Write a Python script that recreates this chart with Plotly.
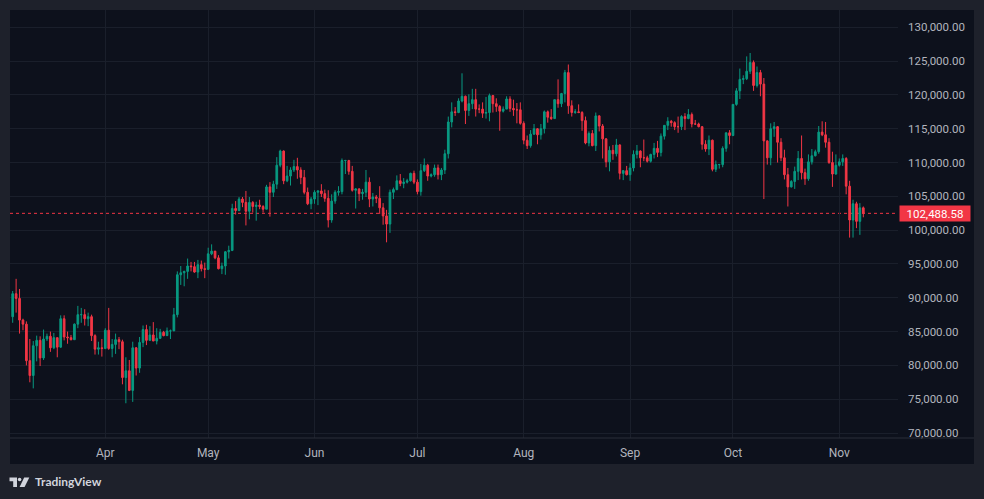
import pandas as pd
import plotly.graph_objects as go

# ---------------- data (daily candles, thousand USD) ----------------
start_date = "2025-03-05"

open_k = [
    # Mar 5-31
    87.2, 90.6, 89.9, 86.7, 86.1, 80.7, 78.5, 82.9, 83.7, 81.1, 83.9, 84.3, 82.6, 84.1, 82.7, 86.9, 84.2, 84.1, 83.8, 86.1, 87.5, 87.5, 86.9, 87.2, 84.4, 82.4, 82.6,
    # Apr
    82.5, 85.2, 82.5, 83.1, 83.8, 83.5, 78.2, 79.2, 76.3, 82.6, 79.6, 83.4, 85.3, 83.7, 84.5, 83.6, 84.0, 84.9, 84.4, 85.1, 85.1, 87.5, 93.4, 93.7, 93.9, 94.7, 94.6, 93.8, 94.9, 94.3,
    # May
    94.2, 96.5, 96.9, 95.9, 94.3, 94.7, 96.8, 97.0, 103.2, 102.9, 104.6, 104.1, 102.8, 104.1, 103.5, 103.7, 103.5, 103.1, 106.4, 105.6, 106.8, 109.6, 111.7, 107.3, 108.0, 108.9, 109.4, 108.9, 107.8, 105.6, 103.9,
    # Jun
    104.6, 105.6, 105.8, 105.4, 104.7, 101.5, 104.3, 105.6, 105.7, 110.3, 110.3, 108.7, 105.9, 106.1, 105.4, 105.6, 107.1, 104.6, 104.9, 104.7, 103.3, 102.1, 100.9, 105.6, 106.0, 107.3, 106.9, 107.1, 107.3, 108.4,
    # Jul
    107.1, 105.7, 108.8, 109.6, 108.0, 108.2, 109.2, 108.2, 108.9, 111.3, 116.0, 117.5, 117.4, 119.1, 119.8, 117.7, 118.7, 119.3, 117.9, 117.9, 117.3, 117.4, 119.9, 118.7, 118.3, 117.6, 117.9, 119.4, 118.0, 117.8, 117.8,
    # Aug
    115.8, 113.3, 112.5, 114.2, 115.0, 114.1, 115.0, 117.5, 116.7, 116.5, 119.3, 118.7, 120.2, 123.3, 118.4, 117.4, 117.5, 117.4, 116.2, 112.9, 114.3, 112.5, 116.9, 115.4, 113.5, 110.1, 111.8, 111.3, 112.6, 108.4, 108.8,
    # Sep
    108.2, 109.2, 111.2, 111.7, 110.7, 110.7, 110.2, 111.2, 112.1, 111.5, 113.9, 115.5, 116.1, 115.9, 115.3, 115.3, 116.8, 116.5, 117.1, 115.7, 115.7, 115.3, 112.7, 112.0, 113.3, 109.0, 109.7, 109.7, 112.1, 114.4,
    # Oct
    114.0, 118.6, 120.6, 122.3, 122.4, 123.5, 124.8, 121.4, 123.3, 121.6, 113.2, 110.7, 115.0, 115.3, 113.0, 110.7, 108.2, 106.4, 107.2, 108.7, 110.6, 108.5, 107.6, 110.1, 111.0, 111.6, 114.5, 114.1, 113.0, 110.0, 108.3,
    # Nov 1-8
    109.6, 110.1, 110.6, 106.5, 101.5, 103.9, 101.3, 103.3,
]

high_k = [
    91.0, 92.8, 91.3, 86.9, 86.5, 83.9, 83.6, 84.4, 84.3, 85.3, 84.7, 85.0, 84.8, 84.1, 87.4, 87.4, 85.0, 84.5, 86.2, 88.8, 88.5, 88.3, 87.8, 87.5, 84.6, 83.5, 83.9,
    85.5, 88.5, 83.9, 84.7, 84.2, 83.8, 81.2, 80.8, 83.5, 82.7, 84.2, 85.9, 86.0, 85.8, 86.4, 85.5, 85.4, 85.1, 85.6, 85.3, 88.5, 93.9, 94.7, 94.0, 95.8, 95.3, 95.3, 95.6, 95.5, 95.2,
    97.4, 97.9, 96.9, 96.3, 95.2, 96.9, 97.7, 103.9, 104.3, 104.9, 104.9, 105.8, 104.9, 104.3, 104.2, 104.5, 103.7, 106.7, 107.1, 107.3, 110.8, 111.9, 111.8, 109.5, 109.3, 110.4, 110.7, 109.3, 108.9, 106.3, 104.9,
    105.9, 105.9, 106.8, 106.0, 105.9, 105.3, 105.9, 106.5, 110.6, 110.4, 110.4, 109.5, 106.2, 106.2, 106.1, 108.9, 107.8, 105.5, 105.2, 106.5, 104.0, 103.0, 106.0, 106.3, 108.1, 108.3, 107.7, 107.6, 108.5, 108.8,
    107.5, 109.8, 110.6, 109.8, 108.4, 109.7, 109.7, 109.2, 111.9, 116.8, 118.9, 118.2, 119.5, 123.2, 119.9, 120.1, 120.9, 120.9, 118.6, 118.9, 119.7, 120.2, 120.0, 119.5, 118.5, 118.3, 119.8, 119.8, 119.3, 118.8, 118.9,
    116.1, 114.0, 114.8, 115.7, 115.1, 115.7, 117.7, 117.7, 117.9, 119.3, 122.3, 120.3, 123.7, 124.5, 119.2, 117.9, 118.6, 117.6, 116.8, 114.6, 114.8, 117.4, 117.0, 115.7, 113.6, 112.4, 112.6, 113.5, 112.7, 108.9, 109.5,
    109.9, 111.8, 112.6, 111.8, 113.4, 111.0, 111.3, 112.9, 113.2, 114.3, 115.5, 116.7, 116.3, 116.1, 116.8, 117.0, 117.3, 117.9, 117.4, 116.3, 115.9, 115.4, 113.3, 114.0, 113.4, 110.3, 109.8, 112.4, 114.4, 114.8,
    118.6, 121.0, 123.9, 122.9, 125.7, 126.2, 125.1, 124.2, 123.7, 122.5, 113.3, 115.8, 116.0, 115.4, 113.6, 111.9, 109.2, 107.4, 109.4, 111.7, 114.0, 109.1, 111.2, 112.0, 111.9, 115.4, 116.1, 116.0, 113.6, 111.6, 111.2,
    110.6, 111.2, 110.8, 107.3, 104.5, 104.2, 104.0, 103.5,
]

low_k = [
    86.3, 87.8, 84.7, 85.2, 80.0, 77.5, 76.6, 80.6, 79.9, 80.8, 83.6, 82.0, 82.4, 81.2, 82.6, 83.7, 83.2, 83.7, 83.8, 85.5, 86.3, 85.9, 85.8, 83.6, 81.6, 81.6, 81.3,
    82.4, 82.3, 81.2, 81.7, 82.4, 77.2, 74.4, 76.2, 74.6, 78.5, 78.9, 82.7, 83.0, 83.7, 83.6, 83.1, 83.9, 84.3, 84.4, 83.9, 85.1, 87.1, 91.9, 91.7, 92.8, 93.9, 93.7, 92.9, 93.9, 92.9,
    94.1, 96.3, 95.7, 94.2, 93.5, 93.4, 95.8, 96.9, 102.3, 102.8, 103.4, 100.7, 101.6, 102.6, 101.4, 103.1, 102.6, 103.1, 102.0, 104.9, 106.1, 109.3, 106.8, 107.1, 106.6, 108.6, 107.6, 106.8, 105.3, 103.7, 103.1,
    103.9, 103.7, 104.9, 104.2, 100.4, 101.1, 103.9, 105.1, 105.3, 108.3, 108.2, 105.7, 103.2, 104.3, 104.5, 104.9, 103.4, 103.5, 104.0, 102.4, 100.8, 98.2, 99.6, 104.6, 105.9, 106.5, 106.2, 106.9, 107.2, 106.8,
    105.3, 105.1, 108.6, 107.3, 107.8, 107.9, 107.5, 107.4, 108.3, 110.6, 115.2, 116.9, 117.3, 118.9, 115.7, 116.9, 117.9, 116.8, 117.3, 116.6, 116.5, 116.1, 117.4, 117.5, 114.7, 117.4, 117.9, 117.5, 116.9, 115.8, 115.6,
    112.7, 112.0, 112.2, 114.1, 112.7, 113.4, 114.3, 115.9, 116.3, 116.5, 118.1, 118.2, 118.9, 117.2, 116.8, 117.2, 117.3, 114.7, 112.7, 112.4, 112.4, 111.7, 114.6, 110.6, 109.3, 108.7, 110.4, 110.9, 107.5, 107.4, 108.1,
    107.3, 108.7, 110.6, 109.3, 110.2, 110.0, 110.0, 110.6, 110.8, 110.9, 113.4, 114.8, 115.3, 114.8, 114.4, 114.8, 114.8, 116.4, 115.2, 115.6, 115.2, 111.9, 111.6, 111.1, 108.7, 108.6, 109.1, 109.3, 111.6, 112.7,
    113.9, 118.4, 119.4, 121.6, 122.2, 123.1, 120.6, 121.1, 119.8, 104.6, 109.7, 109.6, 113.8, 110.0, 110.2, 107.5, 103.5, 106.3, 106.1, 107.4, 107.5, 106.7, 107.3, 109.7, 110.9, 111.3, 113.9, 112.2, 109.8, 106.4, 108.2,
    109.4, 109.5, 105.3, 98.9, 98.9, 100.3, 99.3, 101.9,
]

close_k = [
    90.6, 89.9, 86.7, 86.1, 80.7, 78.5, 82.9, 83.7, 81.1, 83.9, 84.3, 82.6, 84.1, 82.7, 86.9, 84.2, 84.1, 83.8, 86.1, 87.5, 87.5, 86.9, 87.2, 84.4, 82.4, 82.6, 82.5,
    85.2, 82.5, 83.1, 83.8, 83.5, 78.2, 79.2, 76.3, 82.6, 79.6, 83.4, 85.3, 83.7, 84.5, 83.6, 84.0, 84.9, 84.4, 85.1, 85.1, 87.5, 93.4, 93.7, 93.9, 94.7, 94.6, 93.8, 94.9, 94.3, 94.2,
    96.5, 96.9, 95.9, 94.3, 94.7, 96.8, 97.0, 103.2, 102.9, 104.6, 104.1, 102.8, 104.1, 103.5, 103.7, 103.5, 103.1, 106.4, 105.6, 106.8, 109.6, 111.7, 107.3, 108.0, 108.9, 109.4, 108.9, 107.8, 105.6, 103.9, 104.6,
    105.6, 105.8, 105.4, 104.7, 101.5, 104.3, 105.6, 105.7, 110.3, 110.3, 108.7, 105.9, 106.1, 105.4, 105.6, 107.1, 104.6, 104.9, 104.7, 103.3, 102.1, 100.9, 105.6, 106.0, 107.3, 106.9, 107.1, 107.3, 108.4, 107.1,
    105.7, 108.8, 109.6, 108.0, 108.2, 109.2, 108.2, 108.9, 111.3, 116.0, 117.5, 117.4, 119.1, 119.8, 117.7, 118.7, 119.3, 117.9, 117.9, 117.3, 117.4, 119.9, 118.7, 118.3, 117.6, 117.9, 119.4, 118.0, 117.8, 117.8, 115.8,
    113.3, 112.5, 114.2, 115.0, 114.1, 115.0, 117.5, 116.7, 116.5, 119.3, 118.7, 120.2, 123.3, 118.4, 117.4, 117.5, 117.4, 116.2, 112.9, 114.3, 112.5, 116.9, 115.4, 113.5, 110.1, 111.8, 111.3, 112.6, 108.4, 108.8, 108.2,
    109.2, 111.2, 111.7, 110.7, 110.7, 110.2, 111.2, 112.1, 111.5, 113.9, 115.5, 116.1, 115.9, 115.3, 115.3, 116.8, 116.5, 117.1, 115.7, 115.7, 115.3, 112.7, 112.0, 113.3, 109.0, 109.7, 109.7, 112.1, 114.4, 114.0,
    118.6, 120.6, 122.3, 122.4, 123.5, 124.8, 121.4, 123.3, 121.6, 113.2, 110.7, 115.0, 115.3, 113.0, 110.7, 108.2, 106.4, 107.2, 108.7, 110.6, 108.5, 107.6, 110.1, 111.0, 111.6, 114.5, 114.1, 113.0, 110.0, 108.3, 109.6,
    110.1, 110.6, 106.5, 101.5, 103.9, 101.3, 103.3, 102.48858,
]

month_ticks = ["2025-04-01", "2025-05-01", "2025-06-01", "2025-07-01",
               "2025-08-01", "2025-09-01", "2025-10-01", "2025-11-01"]
month_labels = ["Apr", "May", "Jun", "Jul", "Aug", "Sep", "Oct", "Nov"]
price_ticks = [70000, 75000, 80000, 85000, 90000, 95000, 100000, 105000,
               110000, 115000, 120000, 125000, 130000]

assert len(open_k) == len(high_k) == len(low_k) == len(close_k)

UNIT = 1000.0
dates = pd.date_range(start_date, periods=len(close_k), freq="D")
o = [v * UNIT for v in open_k]
h = [v * UNIT for v in high_k]
l = [v * UNIT for v in low_k]
c = [v * UNIT for v in close_k]
last_price = c[-1]

# ---------------- style ----------------
W, H = 984, 499
ML, MR, MT, MB = 10, 86, 10, 61
PW, PH = W - ML - MR, H - MT - MB
OUTER = "#1e212b"
PANE = "#0d111c"
GRID = "#1a1f2b"
TEXT = "#b2b5be"
UP = "#089981"
DOWN = "#f23645"


def px_x(x):
    return (x - ML) / PW


def px_y(y):
    return (H - MB - y) / PH


fig = go.Figure()
fig.add_trace(go.Candlestick(
    x=dates, open=o, high=h, low=l, close=c,
    increasing=dict(line=dict(color=UP, width=1), fillcolor=UP),
    decreasing=dict(line=dict(color=DOWN, width=1), fillcolor=DOWN),
    whiskerwidth=0, hoverinfo="skip", showlegend=False,
))

shapes = [
    # chart pane background (incl. axis areas)
    dict(type="rect", xref="paper", yref="paper", layer="below",
         x0=px_x(10), x1=px_x(974), y0=px_y(464), y1=px_y(10),
         fillcolor=PANE, line=dict(width=0)),
    # time axis separator
    dict(type="line", xref="paper", yref="paper",
         x0=px_x(10), x1=px_x(974), y0=0, y1=0,
         line=dict(color="#2a2e39", width=1)),
    # last price dotted line
    dict(type="line", xref="paper", yref="y", layer="below",
         x0=0, x1=1, y0=last_price, y1=last_price,
         line=dict(color=DOWN, width=1, dash="dot")),
]


def ppath(pts):
    return "M " + " L ".join(f"{px_x(x):.5f},{px_y(y):.5f}" for x, y in pts) + " Z"


# TradingView logo (approximate)
shapes.append(dict(type="path", xref="paper", yref="paper",
                   path=ppath([(9.5, 477.5), (17.0, 477.5), (17.0, 487.0), (13.2, 487.0),
                               (13.2, 481.3), (9.5, 481.3)]),
                   fillcolor="#d1d4dc", line=dict(width=0)))
shapes.append(dict(type="circle", xref="paper", yref="paper",
                   x0=px_x(17.8), x1=px_x(21.4), y0=px_y(481.3), y1=px_y(477.7),
                   fillcolor="#d1d4dc", line=dict(width=0)))
shapes.append(dict(type="path", xref="paper", yref="paper",
                   path=ppath([(24.2, 477.5), (29.3, 477.5), (24.6, 487.0), (19.6, 487.0)]),
                   fillcolor="#d1d4dc", line=dict(width=0)))

annotations = [
    dict(xref="paper", yref="y", x=1, y=last_price, xanchor="left", yanchor="middle",
         xshift=1, text=f"{last_price:,.2f}", showarrow=False,
         bgcolor=DOWN, borderpad=0, width=70, height=15,
         font=dict(family="Roboto", size=11.5, color="#ffffff")),
    dict(xref="paper", yref="paper", x=px_x(32.5), y=px_y(482), xanchor="left",
         yanchor="middle", text="<b>TradingView</b>", showarrow=False,
         font=dict(family="Lato", size=12, color="#d1d4dc")),
]

fig.update_layout(
    width=W, height=H, autosize=False,
    margin=dict(l=ML, r=MR, t=MT, b=MB, pad=0),
    paper_bgcolor=OUTER, plot_bgcolor=PANE,
    showlegend=False, hovermode=False,
    shapes=shapes, annotations=annotations,
    font=dict(family="Roboto", size=12, color=TEXT),
    xaxis=dict(
        type="date", range=["2025-03-04 05:15", "2025-11-18 02:40"],
        tickvals=month_ticks, ticktext=month_labels,
        showgrid=True, gridcolor=GRID, gridwidth=1,
        zeroline=False, showline=False, ticks="",
        ticklabelstandoff=6, rangeslider=dict(visible=False),
        tickfont=dict(family="Roboto", size=12, color=TEXT),
        fixedrange=True,
    ),
    yaxis=dict(
        side="right", range=[69260, 132560],
        tickvals=price_ticks, tickformat=",.2f",
        showgrid=True, gridcolor=GRID, gridwidth=1,
        zeroline=False, showline=False, ticks="",
        ticklabelstandoff=9,
        tickfont=dict(family="Roboto", size=11.5, color=TEXT),
        fixedrange=True,
    ),
)

fig.write_html(
    "out.html",
    config={"displayModeBar": False},
    post_script="document.body.style.margin='0';document.body.style.background='#1e212b';",
)
